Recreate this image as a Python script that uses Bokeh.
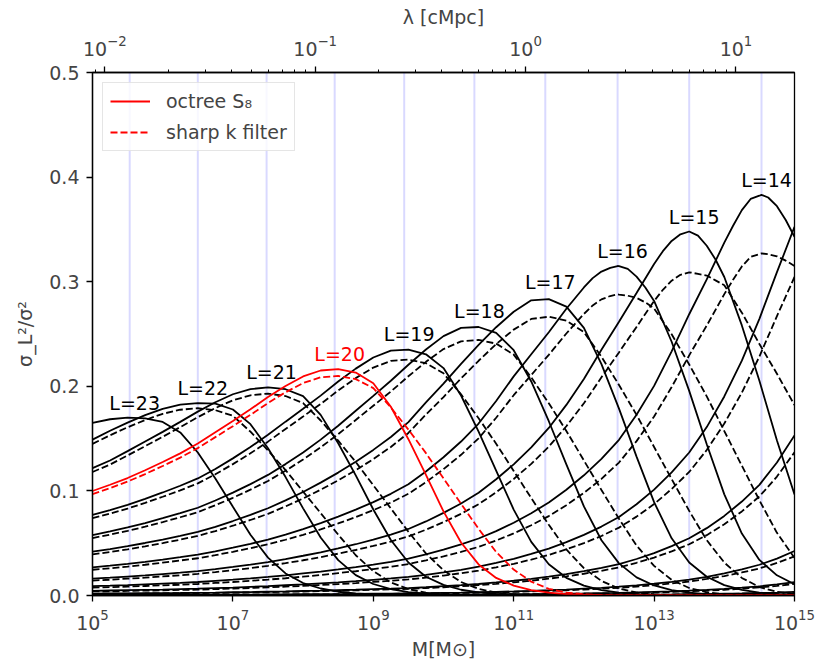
from bokeh.plotting import figure
from bokeh.models import (Range1d, LogAxis, LogScale, FixedTicker,
                          PrintfTickFormatter, Legend, LegendItem)
from bokeh.core.properties import value
from bokeh.embed import file_html
from bokeh.resources import INLINE

# ---------------- data ----------------
log_mass = [5.0, 5.25, 5.5, 5.75, 6.0, 6.25, 6.5, 6.75, 7.0, 7.25,
            7.5, 7.75, 8.0, 8.25, 8.5, 8.75, 9.0, 9.25, 9.5, 9.75,
            10.0, 10.25, 10.5, 10.75, 11.0, 11.25, 11.5, 11.75, 12.0, 12.25,
            12.5, 12.75, 13.0, 13.25, 13.5, 13.75, 14.0, 14.25, 14.5, 14.75,
            15.0]

# octree S8 (solid)
sol_23 = [0.165, 0.1685, 0.170, 0.1693, 0.1659, 0.1559, 0.1367, 0.1119, 0.0848, 0.0581,
          0.0362, 0.0211, 0.0119, 0.0067, 0.0036, 0.0019, 0.0010, 0.0005, 0.0002, 0.0,
          0.0, 0.0, 0.0, 0.0, 0.0, 0.0, 0.0, 0.0, 0.0, 0.0,
          0.0, 0.0, 0.0, 0.0, 0.0, 0.0, 0.0, 0.0, 0.0, 0.0,
          0.0]
sol_22 = [0.149, 0.1575, 0.1653, 0.1725, 0.1785, 0.1825, 0.184, 0.1834, 0.1778, 0.1638,
          0.1407, 0.1132, 0.0833, 0.0554, 0.0338, 0.0195, 0.0110, 0.0061, 0.0033, 0.0017,
          0.0008, 0.0004, 0.0001, 0.0, 0.0, 0.0, 0.0, 0.0, 0.0, 0.0,
          0.0, 0.0, 0.0, 0.0, 0.0, 0.0, 0.0, 0.0, 0.0, 0.0,
          0.0]
sol_21 = [0.1218, 0.1291, 0.1380, 0.1472, 0.1564, 0.1660, 0.1758, 0.1847, 0.1924, 0.1973,
          0.199, 0.1972, 0.1906, 0.1727, 0.1455, 0.1149, 0.0822, 0.0531, 0.0315, 0.0179,
          0.0101, 0.0055, 0.0030, 0.0015, 0.0008, 0.0003, 0.0001, 0.0, 0.0, 0.0,
          0.0, 0.0, 0.0, 0.0, 0.0, 0.0, 0.0, 0.0, 0.0, 0.0,
          0.0]
sol_20 = [0.0999, 0.1059, 0.1123, 0.1197, 0.1276, 0.1359, 0.1453, 0.1561, 0.1669, 0.1780,
          0.1897, 0.2003, 0.2094, 0.2151, 0.2164, 0.2131, 0.2029, 0.1804, 0.1494, 0.1153,
          0.0804, 0.0507, 0.0297, 0.0168, 0.0095, 0.0051, 0.0027, 0.0014, 0.0007, 0.0003,
          0.0001, 0.0, 0.0, 0.0, 0.0, 0.0, 0.0, 0.0, 0.0, 0.0,
          0.0]
sol_19 = [0.0771, 0.0817, 0.0867, 0.0924, 0.0985, 0.1049, 0.1119, 0.1210, 0.1311, 0.1419,
          0.1536, 0.1662, 0.1786, 0.1911, 0.2046, 0.2169, 0.2275, 0.2341, 0.2351, 0.2306,
          0.2174, 0.1912, 0.1567, 0.1194, 0.0821, 0.0513, 0.0299, 0.0169, 0.0094, 0.0051,
          0.0027, 0.0013, 0.0007, 0.0003, 0.0001, 0.0, 0.0, 0.0, 0.0, 0.0,
          0.0]
sol_18 = [0.0578, 0.0613, 0.0651, 0.0693, 0.0739, 0.0787, 0.0839, 0.0908, 0.0983, 0.1065,
          0.1153, 0.1256, 0.1368, 0.1490, 0.1623, 0.1766, 0.1909, 0.2053, 0.2206, 0.2352,
          0.2480, 0.2558, 0.2567, 0.2511, 0.2345, 0.2046, 0.1666, 0.1254, 0.0852, 0.0528,
          0.0307, 0.0173, 0.0096, 0.0052, 0.0027, 0.0014, 0.0006, 0.0003, 0.0001, 0.0,
          0.0]
sol_17 = [0.0419, 0.0444, 0.0471, 0.0502, 0.0535, 0.0570, 0.0608, 0.0657, 0.0712, 0.0771,
          0.0834, 0.0909, 0.0990, 0.1079, 0.1175, 0.1279, 0.1392, 0.1515, 0.1658, 0.1846,
          0.2025, 0.2215, 0.2395, 0.2565, 0.2713, 0.2822, 0.2833, 0.2762, 0.2559, 0.2212,
          0.1787, 0.1328, 0.0892, 0.0547, 0.0316, 0.0179, 0.0099, 0.0054, 0.0028, 0.0014,
          0.0007]
sol_16 = [0.0269, 0.0285, 0.0302, 0.0322, 0.0343, 0.0366, 0.0390, 0.0422, 0.0457, 0.0494,
          0.0535, 0.0583, 0.0635, 0.0692, 0.0754, 0.0821, 0.0893, 0.0972, 0.1064, 0.1185,
          0.1322, 0.1472, 0.1644, 0.1859, 0.2095, 0.2306, 0.2517, 0.2741, 0.2945, 0.3097,
          0.3149, 0.3049, 0.2816, 0.2426, 0.1956, 0.1446, 0.0967, 0.0592, 0.0340, 0.0193,
          0.0107]
sol_15 = [0.0161, 0.0170, 0.0181, 0.0192, 0.0205, 0.0218, 0.0233, 0.0252, 0.0273, 0.0295,
          0.0320, 0.0348, 0.0380, 0.0413, 0.0450, 0.0490, 0.0534, 0.0581, 0.0636, 0.0708,
          0.0790, 0.0880, 0.0982, 0.1111, 0.1254, 0.1417, 0.1602, 0.1822, 0.2070, 0.2349,
          0.2617, 0.2892, 0.3170, 0.3390, 0.348, 0.3344, 0.3045, 0.2582, 0.2053, 0.1482,
          0.0967]
sol_14 = [0.0089, 0.0094, 0.0100, 0.0107, 0.0114, 0.0121, 0.0129, 0.0140, 0.0151, 0.0164,
          0.0178, 0.0193, 0.0211, 0.0229, 0.0250, 0.0272, 0.0296, 0.0322, 0.0353, 0.0393,
          0.0438, 0.0488, 0.0545, 0.0616, 0.0696, 0.0787, 0.0889, 0.1011, 0.1149, 0.1306,
          0.1488, 0.1728, 0.2004, 0.2334, 0.2689, 0.3022, 0.3374, 0.3684, 0.3822, 0.3722,
          0.3430]
sol_13 = [0.0045, 0.0048, 0.0051, 0.0054, 0.0057, 0.0061, 0.0065, 0.0071, 0.0076, 0.0083,
          0.0090, 0.0098, 0.0106, 0.0116, 0.0126, 0.0137, 0.0150, 0.0163, 0.0178, 0.0198,
          0.0221, 0.0246, 0.0275, 0.0311, 0.0351, 0.0397, 0.0449, 0.0511, 0.0580, 0.0659,
          0.0751, 0.0873, 0.1012, 0.1178, 0.1367, 0.1610, 0.1903, 0.2245, 0.2645, 0.3091,
          0.3524]
sol_12 = [0.0018, 0.0019, 0.0020, 0.0022, 0.0023, 0.0024, 0.0026, 0.0028, 0.0031, 0.0033,
          0.0036, 0.0039, 0.0043, 0.0046, 0.0051, 0.0055, 0.0060, 0.0065, 0.0071, 0.0079,
          0.0089, 0.0099, 0.0110, 0.0125, 0.0141, 0.0159, 0.0180, 0.0204, 0.0232, 0.0264,
          0.0301, 0.0349, 0.0405, 0.0472, 0.0547, 0.0644, 0.0761, 0.0898, 0.1058, 0.1271,
          0.1530]
sol_11 = [0.0005, 0.0005, 0.0006, 0.0006, 0.0006, 0.0007, 0.0007, 0.0008, 0.0009, 0.0009,
          0.0010, 0.0011, 0.0012, 0.0013, 0.0014, 0.0015, 0.0017, 0.0018, 0.0020, 0.0022,
          0.0025, 0.0027, 0.0031, 0.0035, 0.0039, 0.0044, 0.0050, 0.0057, 0.0065, 0.0073,
          0.0084, 0.0097, 0.0113, 0.0131, 0.0152, 0.0179, 0.0212, 0.0250, 0.0294, 0.0353,
          0.0425]
sol_10 = [0.0002, 0.0002, 0.0002, 0.0002, 0.0002, 0.0002, 0.0002, 0.0002, 0.0003, 0.0003,
          0.0003, 0.0003, 0.0004, 0.0004, 0.0004, 0.0005, 0.0005, 0.0005, 0.0006, 0.0007,
          0.0007, 0.0008, 0.0009, 0.0010, 0.0012, 0.0013, 0.0015, 0.0017, 0.0019, 0.0022,
          0.0025, 0.0029, 0.0034, 0.0039, 0.0046, 0.0054, 0.0063, 0.0075, 0.0088, 0.0106,
          0.0128]
sol_9 = [0.0, 0.0, 0.0, 0.0, 0.0001, 0.0001, 0.0001, 0.0001, 0.0001, 0.0001,
         0.0001, 0.0001, 0.0001, 0.0001, 0.0001, 0.0001, 0.0001, 0.0001, 0.0002, 0.0002,
         0.0002, 0.0002, 0.0002, 0.0003, 0.0003, 0.0004, 0.0004, 0.0005, 0.0005, 0.0006,
         0.0007, 0.0008, 0.0009, 0.0010, 0.0012, 0.0014, 0.0017, 0.0020, 0.0024, 0.0028,
         0.0034]

# sharp k filter (dashed)
dash_22 = [0.145, 0.1532, 0.1608, 0.1678, 0.1737, 0.1776, 0.179, 0.1772, 0.1718, 0.1566,
           0.1387, 0.1199, 0.0993, 0.0788, 0.0582, 0.0385, 0.0233, 0.0125, 0.0061, 0.0027,
           0.0011, 0.0004, 0.0, 0.0, 0.0, 0.0, 0.0, 0.0, 0.0, 0.0,
           0.0, 0.0, 0.0, 0.0, 0.0, 0.0, 0.0, 0.0, 0.0, 0.0,
           0.0]
dash_21 = [0.1181, 0.1252, 0.1339, 0.1428, 0.1517, 0.1610, 0.1705, 0.1792, 0.1866, 0.1914,
           0.193, 0.1907, 0.1840, 0.1673, 0.1480, 0.1276, 0.1054, 0.0832, 0.0610, 0.0402,
           0.0241, 0.0129, 0.0063, 0.0028, 0.0011, 0.0004, 0.0, 0.0, 0.0, 0.0,
           0.0, 0.0, 0.0, 0.0, 0.0, 0.0, 0.0, 0.0, 0.0, 0.0,
           0.0]
dash_20 = [0.0969, 0.1027, 0.1089, 0.1161, 0.1238, 0.1318, 0.1409, 0.1514, 0.1619, 0.1727,
           0.1840, 0.1943, 0.2031, 0.2086, 0.2099, 0.2069, 0.1983, 0.1798, 0.1586, 0.1361,
           0.1119, 0.0877, 0.0637, 0.0416, 0.0248, 0.0132, 0.0064, 0.0028, 0.0011, 0.0003,
           0.0, 0.0, 0.0, 0.0, 0.0, 0.0, 0.0, 0.0, 0.0, 0.0,
           0.0]
dash_19 = [0.0739, 0.0783, 0.0831, 0.0885, 0.0944, 0.1005, 0.1072, 0.1159, 0.1256, 0.1359,
           0.1471, 0.1592, 0.1711, 0.1831, 0.1960, 0.2078, 0.2179, 0.2243, 0.2255, 0.2221,
           0.2124, 0.1923, 0.1695, 0.1451, 0.1191, 0.0931, 0.0676, 0.0440, 0.0261, 0.0139,
           0.0066, 0.0029, 0.0011, 0.0003, 0.0, 0.0, 0.0, 0.0, 0.0, 0.0,
           0.0]
dash_18 = [0.0549, 0.0582, 0.0618, 0.0658, 0.0702, 0.0748, 0.0797, 0.0863, 0.0934, 0.1012,
           0.1095, 0.1193, 0.1300, 0.1416, 0.1542, 0.1678, 0.1814, 0.1950, 0.2096, 0.2234,
           0.2356, 0.2430, 0.2444, 0.2408, 0.2303, 0.2085, 0.1838, 0.1573, 0.1291, 0.1009,
           0.0733, 0.0477, 0.0283, 0.0150, 0.0072, 0.0031, 0.0012, 0.0004, 0.0, 0.0,
           0.0]
dash_17 = [0.0393, 0.0416, 0.0441, 0.0470, 0.0501, 0.0534, 0.0570, 0.0616, 0.0667, 0.0722,
           0.0781, 0.0852, 0.0928, 0.1011, 0.1101, 0.1198, 0.1304, 0.1420, 0.1554, 0.1730,
           0.1897, 0.2075, 0.2244, 0.2403, 0.2542, 0.2644, 0.2665, 0.2627, 0.2518, 0.2283,
           0.2013, 0.1727, 0.1420, 0.1113, 0.0809, 0.0529, 0.0315, 0.0168, 0.0081, 0.0035,
           0.0014]
dash_16 = [0.0246, 0.0260, 0.0276, 0.0294, 0.0314, 0.0335, 0.0356, 0.0386, 0.0418, 0.0452,
           0.0489, 0.0533, 0.0580, 0.0632, 0.0689, 0.0750, 0.0816, 0.0888, 0.0973, 0.1083,
           0.1208, 0.1345, 0.1503, 0.1699, 0.1915, 0.2108, 0.2301, 0.2505, 0.2692, 0.2831,
           0.2877, 0.2845, 0.2745, 0.2497, 0.2209, 0.1904, 0.1572, 0.1241, 0.0910, 0.0599,
           0.0360]
dash_15 = [0.0143, 0.0151, 0.0161, 0.0170, 0.0182, 0.0194, 0.0207, 0.0224, 0.0242, 0.0262,
           0.0284, 0.0309, 0.0337, 0.0367, 0.0400, 0.0435, 0.0474, 0.0516, 0.0565, 0.0629,
           0.0702, 0.0781, 0.0872, 0.0987, 0.1114, 0.1258, 0.1423, 0.1618, 0.1838, 0.2086,
           0.2324, 0.2568, 0.2815, 0.3010, 0.309, 0.3059, 0.2966, 0.2704, 0.2405, 0.2120,
           0.1820]
dash_14 = [0.0076, 0.0080, 0.0085, 0.0091, 0.0097, 0.0103, 0.0110, 0.0120, 0.0129, 0.0140,
           0.0152, 0.0165, 0.0180, 0.0196, 0.0214, 0.0232, 0.0253, 0.0275, 0.0301, 0.0336,
           0.0374, 0.0417, 0.0465, 0.0526, 0.0594, 0.0672, 0.0759, 0.0863, 0.0981, 0.1115,
           0.1271, 0.1476, 0.1711, 0.1993, 0.2296, 0.2581, 0.2881, 0.3146, 0.3264, 0.3243,
           0.3151]
dash_13 = [0.0039, 0.0041, 0.0044, 0.0047, 0.0049, 0.0053, 0.0056, 0.0061, 0.0066, 0.0072,
           0.0078, 0.0085, 0.0092, 0.0100, 0.0109, 0.0118, 0.0130, 0.0141, 0.0154, 0.0171,
           0.0191, 0.0213, 0.0238, 0.0269, 0.0303, 0.0343, 0.0388, 0.0442, 0.0501, 0.0569,
           0.0649, 0.0754, 0.0874, 0.1018, 0.1181, 0.1391, 0.1644, 0.1940, 0.2285, 0.2671,
           0.3045]
dash_12 = [0.0016, 0.0017, 0.0018, 0.0019, 0.0021, 0.0022, 0.0023, 0.0025, 0.0027, 0.0030,
           0.0032, 0.0035, 0.0038, 0.0042, 0.0045, 0.0049, 0.0054, 0.0058, 0.0064, 0.0071,
           0.0079, 0.0088, 0.0099, 0.0112, 0.0126, 0.0142, 0.0161, 0.0183, 0.0208, 0.0236,
           0.0269, 0.0313, 0.0363, 0.0422, 0.0490, 0.0577, 0.0681, 0.0804, 0.0947, 0.1137,
           0.1369]
dash_11 = [0.0004, 0.0005, 0.0005, 0.0005, 0.0006, 0.0006, 0.0006, 0.0007, 0.0007, 0.0008,
           0.0009, 0.0010, 0.0010, 0.0011, 0.0012, 0.0013, 0.0015, 0.0016, 0.0017, 0.0019,
           0.0022, 0.0024, 0.0027, 0.0030, 0.0034, 0.0039, 0.0044, 0.0050, 0.0057, 0.0065,
           0.0073, 0.0085, 0.0099, 0.0115, 0.0134, 0.0158, 0.0186, 0.0220, 0.0259, 0.0311,
           0.0374]
dash_10 = [0.0001, 0.0001, 0.0001, 0.0002, 0.0002, 0.0002, 0.0002, 0.0002, 0.0002, 0.0002,
           0.0003, 0.0003, 0.0003, 0.0003, 0.0004, 0.0004, 0.0004, 0.0005, 0.0005, 0.0006,
           0.0006, 0.0007, 0.0008, 0.0009, 0.0010, 0.0012, 0.0013, 0.0015, 0.0017, 0.0019,
           0.0022, 0.0025, 0.0029, 0.0034, 0.0040, 0.0047, 0.0055, 0.0065, 0.0077, 0.0092,
           0.0111]
dash_9 = [0.0, 0.0, 0.0, 0.0, 0.0, 0.0001, 0.0001, 0.0001, 0.0001, 0.0001,
          0.0001, 0.0001, 0.0001, 0.0001, 0.0001, 0.0001, 0.0001, 0.0001, 0.0001, 0.0002,
          0.0002, 0.0002, 0.0002, 0.0002, 0.0003, 0.0003, 0.0003, 0.0004, 0.0004, 0.0005,
          0.0006, 0.0007, 0.0008, 0.0009, 0.0010, 0.0012, 0.0015, 0.0017, 0.0021, 0.0024,
          0.0030]

# extra readings around the narrow peaks of the high-mass levels
peak_x_14 = [14.125, 14.375, 14.53, 14.625, 14.875]
sol_14_peak = [0.3535, 0.3791, 0.383, 0.3805, 0.359]
dash_14_peak = [0.3019, 0.3237, 0.327, 0.3263, 0.3201]
peak_x_15 = [13.125, 13.375, 13.625, 13.875]
sol_15_peak = [0.3292, 0.3453, 0.3440, 0.3212]
dash_15_peak = [0.2923, 0.3066, 0.3075, 0.3013]
peak_x_16 = [12.125, 12.375, 12.48, 12.625, 12.875]
sol_16_peak = [0.3034, 0.3132, 0.315, 0.3122, 0.2945]
dash_16_peak = [0.2773, 0.2863, 0.288, 0.2866, 0.2802]

# peak positions / heights of the labelled levels
level_labels = ["L=14", "L=15", "L=16", "L=17", "L=18", "L=19", "L=20", "L=21", "L=22", "L=23"]
peak_log_mass = [14.53, 13.50, 12.48, 11.45, 10.44, 9.44, 8.45, 7.48, 6.50, 5.53]
peak_height = [0.383, 0.348, 0.315, 0.285, 0.258, 0.236, 0.2168, 0.199, 0.184, 0.170]

# axis ticks
mass_ticks = [1e5, 1e7, 1e9, 1e11, 1e13, 1e15]
lam_ticks = [0.01, 0.1, 1.0, 10.0]
lam_minor = [0.009, 0.02, 0.03, 0.04, 0.05, 0.06, 0.07, 0.08, 0.09,
             0.2, 0.3, 0.4, 0.5, 0.6, 0.7, 0.8, 0.9,
             2.0, 3.0, 4.0, 5.0, 6.0, 7.0, 8.0, 9.0]
sigma_ticks = [0.0, 0.1, 0.2, 0.3, 0.4, 0.5]

# ---------------- figure ----------------
FONT = "DejaVu Sans"
FS = "19px"


def curve(base, extra_x=(), extra_y=()):
    pts = sorted(list(zip(log_mass, base)) + list(zip(extra_x, extra_y)))
    return [10 ** a for a, _ in pts], [b for _, b in pts]


peak_mass = [10 ** v for v in peak_log_mass]

p = figure(width=822, height=664, x_axis_type="log",
           x_range=Range1d(1e5, 1e15), y_range=Range1d(0, 0.5),
           output_backend="svg", toolbar_location=None,
           min_border_left=92, min_border_right=28,
           min_border_top=72, min_border_bottom=69,
           x_axis_label="M[M⊙]", y_axis_label="σ_L²/σ²")
p.xgrid.visible = False
p.ygrid.visible = False
p.outline_line_color = "black"
p.outline_line_width = 1.3
p.outline_line_alpha = 1.0

p.below[0].ticker = FixedTicker(ticks=mass_ticks, minor_ticks=[])
p.left[0].ticker = FixedTicker(ticks=sigma_ticks, minor_ticks=[])
p.left[0].formatter = PrintfTickFormatter(format="%.1f")

p.extra_x_ranges = {"lam": Range1d(10 ** -2.0585, 10 ** 1.2783)}
p.extra_x_scales = {"lam": LogScale()}
top = LogAxis(x_range_name="lam", axis_label="λ [cMpc]",
              ticker=FixedTicker(ticks=lam_ticks, minor_ticks=lam_minor))
p.add_layout(top, "above")

for ax in (p.below[0], p.left[0], top):
    ax.major_label_text_font = FONT
    ax.major_label_text_font_size = FS
    ax.axis_label_text_font = FONT
    ax.axis_label_text_font_size = FS
    ax.axis_label_text_font_style = "normal"
    ax.major_tick_in = 0
    ax.major_tick_out = 6
    ax.minor_tick_in = 0
    ax.minor_tick_out = 3
    ax.axis_line_width = 1.3
    ax.major_tick_line_width = 1.3
    ax.minor_tick_line_width = 1.0
p.left[0].major_label_standoff = 7
p.left[0].axis_label_standoff = 10
p.below[0].major_label_standoff = 7
p.below[0].axis_label_standoff = 5
top.major_label_standoff = 11
top.axis_label_standoff = 4

# vertical markers at the level peaks
p.segment(x0=peak_mass, y0=[0.0] * len(peak_mass), x1=peak_mass, y1=[0.5] * len(peak_mass),
          line_color="blue", line_alpha=0.15, line_width=2)

solid = {9: curve(sol_9), 10: curve(sol_10), 11: curve(sol_11), 12: curve(sol_12),
         13: curve(sol_13), 14: curve(sol_14, peak_x_14, sol_14_peak),
         15: curve(sol_15, peak_x_15, sol_15_peak), 16: curve(sol_16, peak_x_16, sol_16_peak),
         17: curve(sol_17), 18: curve(sol_18), 19: curve(sol_19), 21: curve(sol_21),
         22: curve(sol_22), 23: curve(sol_23)}
dashed = {9: curve(dash_9), 10: curve(dash_10), 11: curve(dash_11), 12: curve(dash_12),
          13: curve(dash_13), 14: curve(dash_14, peak_x_14, dash_14_peak),
          15: curve(dash_15, peak_x_15, dash_15_peak), 16: curve(dash_16, peak_x_16, dash_16_peak),
          17: curve(dash_17), 18: curve(dash_18), 19: curve(dash_19), 21: curve(dash_21),
          22: curve(dash_22)}
LW = 1.8
DASH = "7 3"
for L in sorted(solid):
    xs, ys = solid[L]
    p.line(xs, ys, line_color="black", line_width=LW)
    if L in dashed:
        xs, ys = dashed[L]
        p.line(xs, ys, line_color="black", line_width=LW, line_dash=DASH)

xs, ys = curve(sol_20)
red_solid = p.line(xs, ys, line_color="red", line_width=LW)
xs, ys = curve(dash_20)
red_dash = p.line(xs, ys, line_color="red", line_width=LW, line_dash=DASH)

label_colors = ["red" if t == "L=20" else "black" for t in level_labels]
p.text(x=peak_mass, y=[h + 0.0143 for h in peak_height], text=level_labels,
       text_color=label_colors, text_align="center", text_baseline="alphabetic",
       x_offset=5, text_font=value(FONT), text_font_size=FS)

legend = Legend(items=[LegendItem(label="octree S₈", renderers=[red_solid]),
                       LegendItem(label="sharp k filter", renderers=[red_dash])],
                location="top_left")
legend.label_text_font = FONT
legend.label_text_font_size = FS
legend.border_line_color = "#cccccc"
legend.border_line_width = 1
legend.background_fill_alpha = 0.8
legend.glyph_width = 40
legend.glyph_height = 20
legend.label_height = 20
legend.label_standoff = 16
legend.padding = 7
legend.spacing = 9
legend.margin = 10
p.add_layout(legend)

open("out.html", "w").write(file_html(p, INLINE, "sigma"))
